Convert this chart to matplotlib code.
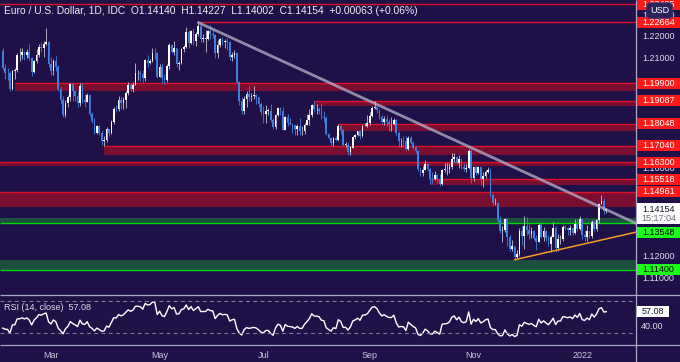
import matplotlib
matplotlib.use("Agg")
import matplotlib.pyplot as plt
from matplotlib.patches import Rectangle
import numpy as np
import pandas as pd

plt.rcParams["font.family"] = ["Liberation Sans", "DejaVu Sans"]

W, H = 680, 362
BG = "#1f1148"
BLUE = "#3f7fe0"
RED_LINE = "#e0102a"
RED_BAND = "#7a0e30"
GREEN_LINE = "#00d80a"
GREEN_BAND = "#1c4f3e"
SEP = "#a8a8c8"
TXT = "#dcdcea"

# EUR/USD daily, IDC, 2021-02-01 .. 2022-01-17 (one value per weekday)
close_px = [
    # Feb
    1.2060, 1.2038, 1.2035, 1.1963, 1.2047, 1.2049, 1.2118, 1.2120, 1.2132, 1.2118,
    1.2130, 1.2104, 1.2040, 1.2091, 1.2118, 1.2156, 1.2150, 1.2166, 1.2175, 1.2075,
    # Mar
    1.2047, 1.2089, 1.2065, 1.1965, 1.1915, 1.1847, 1.1900, 1.1927, 1.1985, 1.1952,
    1.1930, 1.1901, 1.1978, 1.1915, 1.1905, 1.1938, 1.1850, 1.1817, 1.1763, 1.1795,
    1.1764, 1.1727, 1.1730,
    # Apr
    1.1780, 1.1762, 1.1813, 1.1874, 1.1870, 1.1915, 1.1900, 1.1913, 1.1947, 1.1980,
    1.1965, 1.1983, 1.2037, 1.2037, 1.2033, 1.2013, 1.2097, 1.2083, 1.2090, 1.2127,
    1.2125, 1.2020,
    # May
    1.2063, 1.2014, 1.2004, 1.2067, 1.2165, 1.2130, 1.2150, 1.2075, 1.2080, 1.2145,
    1.2155, 1.2225, 1.2174, 1.2226, 1.2180, 1.2213, 1.2250, 1.2192, 1.2193, 1.2193,
    1.2226,
    # Jun
    1.2212, 1.2210, 1.2125, 1.2165, 1.2190, 1.2175, 1.2180, 1.2175, 1.2107, 1.2120,
    1.2125, 1.1997, 1.1908, 1.1865, 1.1918, 1.1940, 1.1925, 1.1930, 1.1935, 1.1925,
    1.1895, 1.1858,
    # Jul
    1.1848, 1.1865, 1.1865, 1.1822, 1.1790, 1.1844, 1.1875, 1.1862, 1.1775, 1.1835,
    1.1810, 1.1805, 1.1800, 1.1780, 1.1795, 1.1770, 1.1770, 1.1800, 1.1820, 1.1845,
    1.1890, 1.1870,
    # Aug
    1.1870, 1.1865, 1.1835, 1.1832, 1.1760, 1.1738, 1.1718, 1.1740, 1.1730, 1.1795,
    1.1778, 1.1710, 1.1710, 1.1675, 1.1697, 1.1745, 1.1755, 1.1770, 1.1750, 1.1795,
    1.1797, 1.1808,
    # Sep
    1.1840, 1.1875, 1.1880, 1.1868, 1.1838, 1.1815, 1.1825, 1.1813, 1.1805, 1.1805,
    1.1820, 1.1765, 1.1725, 1.1728, 1.1725, 1.1688, 1.1740, 1.1718, 1.1697, 1.1683,
    1.1598, 1.1580,
    # Oct
    1.1595, 1.1620, 1.1598, 1.1555, 1.1553, 1.1570, 1.1552, 1.1530, 1.1595, 1.1598,
    1.1600, 1.1610, 1.1645, 1.1655, 1.1625, 1.1645, 1.1607, 1.1597, 1.1605, 1.1683,
    1.1558,
    # Nov
    1.1607, 1.1580, 1.1610, 1.1555, 1.1567, 1.1587, 1.1595, 1.1480, 1.1445, 1.1445,
    1.1368, 1.1318, 1.1320, 1.1370, 1.1288, 1.1237, 1.1250, 1.1200, 1.1210, 1.1318,
    1.1292, 1.1338,
    # Dec
    1.1320, 1.1305, 1.1315, 1.1285, 1.1265, 1.1345, 1.1290, 1.1315, 1.1285, 1.1258,
    1.1290, 1.1330, 1.1238, 1.1280, 1.1280, 1.1333, 1.1330, 1.1320, 1.1330, 1.1310,
    1.1350, 1.1325, 1.1370,
    # Jan 2022
    1.1300, 1.1288, 1.1315, 1.1295, 1.1360, 1.1325, 1.1365, 1.1440, 1.1455, 1.1409,
    1.1415,
]

high_px = [
    1.2150, 1.2078, 1.2060, 1.2043, 1.2050, 1.2060, 1.2128, 1.2150, 1.2150, 1.2135,
    1.2145, 1.2169, 1.2109, 1.2096, 1.2145, 1.2170, 1.2175, 1.2180, 1.2243, 1.2183,
    1.2110, 1.2100, 1.2113, 1.2071, 1.1975, 1.1930, 1.1915, 1.1935, 1.1990, 1.1990,
    1.1950, 1.1955, 1.1990, 1.1990, 1.1940, 1.1945, 1.1940, 1.1860, 1.1830, 1.1800,
    1.1800, 1.1770, 1.1750,
    1.1790, 1.1780, 1.1820, 1.1880, 1.1890, 1.1930, 1.1925, 1.1925, 1.1955, 1.1995,
    1.1990, 1.1995, 1.2080, 1.2050, 1.2048, 1.2050, 1.2100, 1.2117, 1.2100, 1.2150,
    1.2150, 1.2130,
    1.2075, 1.2080, 1.2030, 1.2075, 1.2173, 1.2170, 1.2180, 1.2150, 1.2090, 1.2150,
    1.2165, 1.2245, 1.2233, 1.2230, 1.2240, 1.2225, 1.2266, 1.2265, 1.2215, 1.2230,
    1.2230,
    1.2255, 1.2230, 1.2215, 1.2185, 1.2195, 1.2198, 1.2190, 1.2195, 1.2180, 1.2130,
    1.2140, 1.2130, 1.2000, 1.1925, 1.1930, 1.1955, 1.1975, 1.1945, 1.1975, 1.1940,
    1.1925, 1.1905,
    1.1885, 1.1890, 1.1875, 1.1895, 1.1830, 1.1850, 1.1880, 1.1880, 1.1880, 1.1840,
    1.1850, 1.1830, 1.1810, 1.1800, 1.1805, 1.1830, 1.1795, 1.1810, 1.1850, 1.1870,
    1.1895, 1.1909,
    1.1895, 1.1880, 1.1900, 1.1865, 1.1840, 1.1765, 1.1745, 1.1745, 1.1750, 1.1805,
    1.1800, 1.1780, 1.1720, 1.1720, 1.1705, 1.1750, 1.1760, 1.1770, 1.1775, 1.1800,
    1.1810, 1.1845,
    1.1858, 1.1885, 1.1909, 1.1885, 1.1870, 1.1845, 1.1840, 1.1845, 1.1825, 1.1835,
    1.1830, 1.1825, 1.1770, 1.1740, 1.1750, 1.1750, 1.1750, 1.1750, 1.1725, 1.1705,
    1.1685, 1.1605,
    1.1615, 1.1640, 1.1625, 1.1605, 1.1585, 1.1590, 1.1575, 1.1575, 1.1600, 1.1625,
    1.1625, 1.1625, 1.1670, 1.1670, 1.1660, 1.1665, 1.1645, 1.1625, 1.1620, 1.1692,
    1.1690,
    1.1615, 1.1615, 1.1615, 1.1615, 1.1585, 1.1595, 1.1610, 1.1605, 1.1490, 1.1465,
    1.1450, 1.1385, 1.1340, 1.1375, 1.1375, 1.1300, 1.1275, 1.1250, 1.1230, 1.1330,
    1.1340, 1.1385,
    1.1380, 1.1350, 1.1335, 1.1320, 1.1300, 1.1355, 1.1355, 1.1335, 1.1320, 1.1300,
    1.1300, 1.1360, 1.1340, 1.1305, 1.1300, 1.1345, 1.1345, 1.1335, 1.1345, 1.1335,
    1.1370, 1.1370, 1.1385,
    1.1375, 1.1320, 1.1345, 1.1315, 1.1365, 1.1365, 1.1370, 1.1445, 1.1482, 1.1465,
    1.1423,
]

low_px = [
    1.2050, 1.2010, 1.2005, 1.1952, 1.1960, 1.2010, 1.2040, 1.2090, 1.2100, 1.2095,
    1.2105, 1.2095, 1.2023, 1.2035, 1.2080, 1.2110, 1.2130, 1.2110, 1.2165, 1.2065,
    1.2025, 1.2025, 1.2045, 1.1955, 1.1893, 1.1836, 1.1835, 1.1880, 1.1910, 1.1910,
    1.1910, 1.1880, 1.1885, 1.1900, 1.1880, 1.1910, 1.1840, 1.1810, 1.1760, 1.1760,
    1.1755, 1.1710, 1.1704,
    1.1720, 1.1750, 1.1760, 1.1805, 1.1860, 1.1865, 1.1870, 1.1870, 1.1875, 1.1935,
    1.1955, 1.1950, 1.1985, 1.2005, 1.2000, 1.1995, 1.2000, 1.2065, 1.2075, 1.2085,
    1.2100, 1.2015,
    1.2020, 1.1990, 1.1985, 1.1995, 1.2055, 1.2125, 1.2120, 1.2065, 1.2050, 1.2075,
    1.2130, 1.2150, 1.2150, 1.2170, 1.2165, 1.2160, 1.2205, 1.2175, 1.2175, 1.2133,
    1.2185,
    1.2190, 1.2195, 1.2105, 1.2105, 1.2155, 1.2165, 1.2150, 1.2140, 1.2095, 1.2090,
    1.2105, 1.1990, 1.1890, 1.1848, 1.1850, 1.1880, 1.1910, 1.1910, 1.1920, 1.1895,
    1.1880, 1.1845,
    1.1808, 1.1810, 1.1845, 1.1815, 1.1782, 1.1780, 1.1840, 1.1845, 1.1775, 1.1775,
    1.1795, 1.1800, 1.1765, 1.1755, 1.1755, 1.1755, 1.1755, 1.1760, 1.1800, 1.1800,
    1.1835, 1.1860,
    1.1850, 1.1850, 1.1825, 1.1815, 1.1755, 1.1735, 1.1705, 1.1705, 1.1725, 1.1725,
    1.1760, 1.1705, 1.1700, 1.1665, 1.1664, 1.1695, 1.1735, 1.1750, 1.1735, 1.1745,
    1.1795, 1.1790,
    1.1800, 1.1835, 1.1870, 1.1855, 1.1825, 1.1805, 1.1800, 1.1795, 1.1770, 1.1770,
    1.1800, 1.1755, 1.1700, 1.1700, 1.1700, 1.1685, 1.1685, 1.1715, 1.1690, 1.1670,
    1.1590, 1.1565,
    1.1565, 1.1595, 1.1590, 1.1530, 1.1530, 1.1550, 1.1535, 1.1524, 1.1525, 1.1585,
    1.1570, 1.1580, 1.1600, 1.1630, 1.1620, 1.1605, 1.1600, 1.1590, 1.1585, 1.1600,
    1.1535,
    1.1545, 1.1570, 1.1575, 1.1525, 1.1515, 1.1560, 1.1580, 1.1470, 1.1435, 1.1435,
    1.1360, 1.1310, 1.1265, 1.1312, 1.1250, 1.1225, 1.1225, 1.1186, 1.1195, 1.1205,
    1.1255, 1.1235,
    1.1300, 1.1280, 1.1285, 1.1275, 1.1230, 1.1265, 1.1285, 1.1270, 1.1270, 1.1250,
    1.1220, 1.1290, 1.1220, 1.1225, 1.1260, 1.1270, 1.1320, 1.1300, 1.1300, 1.1300,
    1.1305, 1.1315, 1.1320,
    1.1280, 1.1270, 1.1270, 1.1285, 1.1285, 1.1315, 1.1315, 1.1355, 1.1440, 1.1395,
    1.1400,
]

# January 2021 closes, only used to warm up the RSI
warmup_close = [
    1.2250, 1.2297, 1.2326, 1.2271, 1.2219, 1.2152, 1.2208, 1.2160, 1.2155, 1.2081,
    1.2078, 1.2130, 1.2106, 1.2164, 1.2170, 1.2140, 1.2160, 1.2110, 1.2122, 1.2135,
]

# support / resistance levels drawn on the chart
zone_level = [1.23495, 1.22664, 1.19900, 1.19087, 1.18048, 1.17040,
              1.16300, 1.15518, 1.14961, 1.13548, 1.11400]
zone_edge = [None, None, 1.1954, 1.1887, 1.1772, 1.1661,
             1.1614, 1.1526, 1.1424, 1.1376, 1.1185]
zone_start = [None, "2021-05-25", "2021-02-08", "2021-07-30", "2021-08-13", "2021-03-31",
              None, "2021-10-06", None, None, None]
zone_color = ["red"] * 9 + ["green"] * 2

# trend lines: (date, price) anchors
down_trend = [("2021-05-25", 1.2266), ("2022-01-17", 1.1414)]
up_trend = [("2021-11-24", 1.1186), ("2022-01-17", 1.1281)]

month_ticks = ["2021-03-01", "2021-05-03", "2021-07-01", "2021-09-01", "2021-11-01", "2022-01-03"]
month_labels = ["Mar", "May", "Jul", "Sep", "Nov", "2022"]

title = ("Euro / U.S. Dollar, 1D, IDC  O1.14140  H1.14227  L1.14002  "
         "C1.14154  +0.00063 (+0.06%)")
last_price = 1.14154
rsi_last = 57.08


dates = pd.bdate_range("2021-02-01", "2022-01-17")
close = np.array(close_px)
high = np.array(high_px)
low = np.array(low_px)
assert len(close) == len(high) == len(low) == len(dates)
opens = np.r_[warmup_close[-1], close[:-1]]
high = np.maximum(high, np.maximum(opens, close))
low = np.minimum(low, np.minimum(opens, close))
x = np.arange(len(close))


def day_index(d):
    return dates.get_loc(pd.Timestamp(d))


def rsi(values, n=14):
    delta = np.diff(values)
    gain = np.clip(delta, 0, None)
    loss = np.clip(-delta, 0, None)
    ag, al = gain[:n].mean(), loss[:n].mean()
    out = [np.nan] * n
    out.append(100 - 100 / (1 + ag / al))
    for g, l in zip(gain[n:], loss[n:]):
        ag = (ag * (n - 1) + g) / n
        al = (al * (n - 1) + l) / n
        out.append(100 - 100 / (1 + ag / al))
    return np.array(out)


rsi_vals = rsi(np.r_[warmup_close, close])[-len(close):]

# layout in pixels
PLOT_R = 636
MAIN_B = 295
RSI_B = 345

fig = plt.figure(figsize=(W / 100, H / 100), dpi=100, facecolor=BG)
ax = fig.add_axes([0, (H - MAIN_B) / H, PLOT_R / W, MAIN_B / H])
ax_rsi = fig.add_axes([0, (H - RSI_B) / H, PLOT_R / W, (RSI_B - MAIN_B) / H])
for a in (ax, ax_rsi):
    a.set_facecolor(BG)
    a.set_xticks([])
    a.set_yticks([])
    for s in a.spines.values():
        s.set_visible(False)
    a.set_xlim(-1.12, 262.3)
ax.set_ylim(1.10256, 1.23684)
ax_rsi.set_ylim(15, 77.5)
x0, x1 = ax.get_xlim()

# zones
for lvl, edge, start, col in zip(zone_level, zone_edge, zone_start, zone_color):
    xs = x0 if start is None else day_index(start)
    line_c = RED_LINE if col == "red" else GREEN_LINE
    band_c = RED_BAND if col == "red" else GREEN_BAND
    if edge is not None:
        lo, hi = min(lvl, edge), max(lvl, edge)
        ax.add_patch(Rectangle((xs, lo), x1 - xs, hi - lo, fc=band_c, ec="none", zorder=1))
    ax.hlines(lvl, xs, x1, color=line_c, lw=1.0, zorder=2)

# candles
up = close >= opens
body_lo = np.minimum(opens, close)
body_h = np.maximum(np.abs(close - opens), 0.00012)
ax.vlines(x[up], low[up], high[up], color="#c4c4d4", lw=0.6, zorder=3)
ax.vlines(x[~up], low[~up], high[~up], color=BLUE, lw=0.6, zorder=3)
ax.bar(x[up], body_h[up], bottom=body_lo[up], width=0.7, color="white", lw=0, zorder=4)
ax.bar(x[~up], body_h[~up], bottom=body_lo[~up], width=0.7, color=BLUE, lw=0, zorder=4)

# trend lines, extended to the right edge
for (d0, p0), (d1, p1), c, lw, al in [(*down_trend, "#b4b4cc", 2.0, 0.75),
                                      (*up_trend, "#f59a23", 1.1, 1.0)]:
    i0, i1 = day_index(d0), day_index(d1)
    slope = (p1 - p0) / (i1 - i0)
    ax.plot([i0, x1], [p0, p0 + slope * (x1 - i0)], color=c, lw=lw, alpha=al,
            solid_capstyle="round", zorder=5)

# RSI
ax_rsi.plot(x, rsi_vals, color="white", lw=1.0)
for lv in (70, 30):
    ax_rsi.axhline(lv, color="#7c7c98", lw=0.8, dashes=(3.5, 3))

# overlay in pixel coordinates for the price scale and labels
ov = fig.add_axes([0, 0, 1, 1], zorder=10)
ov.set_xlim(0, W)
ov.set_ylim(H, 0)
ov.axis("off")


def px(a, xv, yv):
    dx, dy = a.transData.transform((xv, yv))
    return dx, H - dy


ov.hlines([MAIN_B, RSI_B], 0, W, color=SEP, lw=0.9)
ov.vlines(PLOT_R, 0, H, color=SEP, lw=0.9)

ov.text(4, 10.5, title, color="#ececf4", fontsize=7.4, ha="left", va="center")


def axis_box(y, text, fc, tc, w=44):
    ov.add_patch(Rectangle((636.5, y - 5.5), w, 11, fc=fc, ec="none", zorder=5))
    ov.text(636.5 + w / 2, y, text, color=tc, fontsize=6.5, ha="center", va="center", zorder=6)


label_shift = {1.13548: 9.5}
box_y = []
for lvl, col in zip(zone_level, zone_color):
    y = px(ax, 0, lvl)[1] + label_shift.get(lvl, 0)
    box_y.append(y)
    if col == "red":
        axis_box(y, "%.5f" % lvl, "#ff1a1a", "white")
    else:
        axis_box(y, "%.5f" % lvl, "#1aff1a", "black")

# last price box
yp = px(ax, 0, last_price)[1]
box_y.append(yp)
ov.add_patch(Rectangle((636.5, yp - 6.5), 44, 21.5, fc="white", ec="none", zorder=7))
ov.text(658.5, yp, "%.5f" % last_price, color="#131722", fontsize=6.5,
        ha="center", va="center", zorder=8)
ov.text(658.5, yp + 9.5, "15:17:04", color="#6a6a78", fontsize=6.5,
        ha="center", va="center", zorder=8)

# plain price ticks, skipped where a label box hides them completely
for p in np.arange(1.11, 1.235, 0.01):
    yt = px(ax, 0, p)[1]
    if min(abs(yt - b) for b in box_y) < 5:
        continue
    ov.text(658.5, yt, "%.5f" % p, color=TXT, fontsize=6.5,
            ha="center", va="center", zorder=3)

ov.text(659.5, 10.5, "USD", color="white", fontsize=6.5, ha="center", va="center", zorder=9,
        bbox=dict(boxstyle="round,pad=0.35", fc="#2a2258", ec="#3a3270", lw=0.6))

# RSI labels
ov.text(4, 308, "RSI (14, close)  %.2f" % rsi_last, color=TXT, fontsize=6.5,
        ha="left", va="center")
yr = px(ax_rsi, 0, rsi_last)[1]
ov.add_patch(Rectangle((636.5, yr - 5.5), 32, 11, fc="white", ec="none", zorder=5))
ov.text(652.5, yr, "%.2f" % rsi_last, color="#131722", fontsize=6.5,
        ha="center", va="center", zorder=6)
ov.text(652.5, px(ax_rsi, 0, 40)[1] + 1.5, "40.00", color=TXT, fontsize=6.5,
        ha="center", va="center")

# month labels
for d, lab in zip(month_ticks, month_labels):
    ov.text(px(ax, day_index(d), 1.2)[0], 355, lab, color="#c8c8da", fontsize=6.5,
            ha="center", va="center")

fig.savefig("out.png", dpi=100, facecolor=BG)
